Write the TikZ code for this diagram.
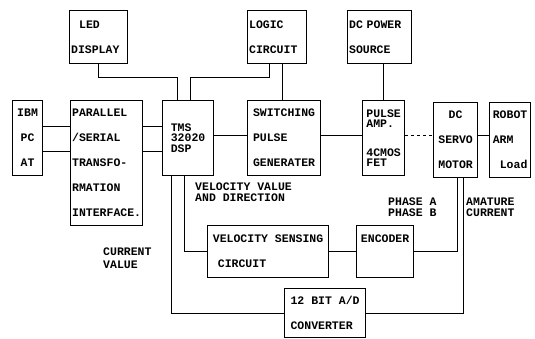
\documentclass[tikz,border=0pt]{standalone}
\usepackage{fontspec}
\setmainfont{Liberation Mono}
\begin{document}
\begin{tikzpicture}[x=1pt,y=-1pt,
  box/.style={draw,line width=1.2pt,anchor=north west,inner sep=1.5pt,
    font=\bfseries\fontsize{11.5}{25}\selectfont},
  lbl/.style={anchor=north west,inner sep=0pt,align=left,
    font=\bfseries\fontsize{11.5}{11}\selectfont},
  wire/.style={line width=1.1pt}]
\useasboundingbox (0,0) rectangle (535,339);
% top row
\node[box,minimum width=58pt,minimum height=53pt,text width=55pt,align=left] (led) at (69,10) {\hspace*{8pt}LED\\DISPLAY};
\node[box,minimum width=59pt,minimum height=53pt,text width=56pt,align=left] (logic) at (247,10) {LOGIC\\CIRCUIT};
\node[box,minimum width=64pt,minimum height=53pt,text width=61pt,align=left] (dcp) at (347,10) {DC POWER\\SOURCE};
% middle row
\node[box,minimum width=30pt,minimum height=75pt,align=center] (ibm) at (12,100) {IBM\\PC\\AT};
\node[box,minimum width=72pt,minimum height=125pt,text width=69pt,align=left] (par) at (70,100) {PARALLEL\\/SERIAL\\TRANSFO-\\RMATION\\INTERFACE.};
\node[box,minimum width=51pt,minimum height=75pt,align=left,font=\bfseries\fontsize{11.5}{10.5}\selectfont] (dsp) at (162,100) {TMS\\32020\\DSP};
\node[box,minimum width=73pt,minimum height=75pt,align=left] (sw) at (247,100) {SWITCHING\\PULSE\\GENERATER};
\node[box,minimum width=42pt,minimum height=75pt,align=left,font=\bfseries\fontsize{11.5}{10}\selectfont] (pulse) at (362,100) {PULSE\\AMP.\\[19pt]4CMOS\\FET};
\node[box,minimum width=44pt,minimum height=75pt,align=center] (motor) at (433,102) {DC\\SERVO\\MOTOR};
\node[box,minimum width=41pt,minimum height=75pt,align=left] (robot) at (489,102) {ROBOT\\ARM\\\hspace*{7pt}Load};
% bottom row
\node[box,minimum width=121pt,minimum height=52pt,align=left] (vel) at (207,225) {VELOCITY SENSING\\\hspace*{5pt}CIRCUIT};
\node[box,minimum width=57pt,minimum height=52pt,align=left] (enc) at (356,225) {ENCODER\\\phantom{X}};
\node[box,minimum width=81pt,minimum height=49pt,align=left] (ad) at (284,288) {12 BIT A/D\\CONVERTER};
% labels
\node[lbl] (lvel) at (195,183) {VELOCITY VALUE\\AND DIRECTION};
\node[lbl,font=\bfseries\fontsize{11.5}{12.5}\selectfont] (lcur) at (103,248) {CURRENT\\VALUE};
\node[lbl] (lph) at (388,198) {PHASE A\\PHASE B};
\node[lbl] (lam) at (466,198) {AMATURE\\CURRENT};
% connectors top
\draw[wire] (led.south) -- ++(0,13) -| ([xshift=-10.5pt]dsp.north);
\draw[wire] ([xshift=-7.5pt]logic.south) -- ++(0,13) -| ([xshift=2.5pt]dsp.north);
\draw[wire] ([xshift=5.5pt]logic.south) -- ([xshift=5.5pt]logic.south |- sw.north);
\draw[wire] (pulse.north) -- (pulse.north |- dcp.south);
% middle row
\draw[wire] ([yshift=11.5pt]ibm.east) -- ([yshift=11.5pt]ibm.east -| par.west);
\draw[wire] ([yshift=-13.5pt]ibm.east) -- ([yshift=-13.5pt]ibm.east -| par.west);
\draw[wire] ([yshift=11.5pt]dsp.west) -- ([yshift=11.5pt]dsp.west -| par.east);
\draw[wire] ([yshift=-13.5pt]dsp.west) -- ([yshift=-13.5pt]dsp.west -| par.east);
\draw[wire] ([yshift=2.5pt]dsp.east) -- ([yshift=2.5pt]dsp.east -| sw.west);
\draw[wire] ([yshift=2.5pt]sw.east) -- ([yshift=2.5pt]sw.east -| pulse.west);
\draw[wire,dashed] ([yshift=2.5pt]pulse.east) -- ([yshift=2.5pt]pulse.east -| motor.west);
\draw[wire] ([yshift=4.5pt]motor.east) -- ([yshift=4.5pt]motor.east -| robot.west);
% lower connectors
\draw[wire] ([xshift=-3.5pt]dsp.south) |- (vel.west);
\draw[wire] ([xshift=-16.5pt]dsp.south) |- (ad.west);
\draw[wire] (vel.east) -- (enc.west);
\draw[wire] (enc.east) -| ([xshift=2pt]motor.south);
\draw[wire] (ad.east) -| ([xshift=8pt]motor.south);
\end{tikzpicture}
\end{document}
